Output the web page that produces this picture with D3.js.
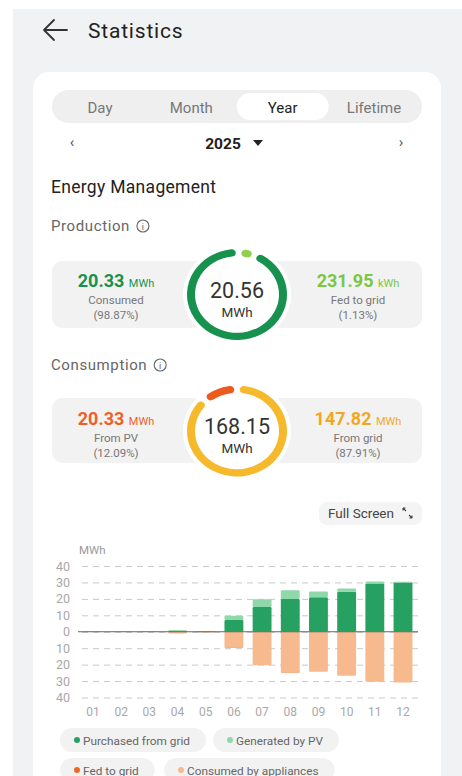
<!DOCTYPE html>
<html>
<head>
<meta charset="utf-8">
<script src="https://cdn.jsdelivr.net/npm/d3@7"></script>
<style>
  body { margin: 0; background: #fff; }
  svg { display: block; font-family: Roboto, "Noto Sans", sans-serif; }
</style>
</head>
<body>
<svg id="canvas" width="462" height="776"></svg>
<script>
// ---- data ----
const tabs = ['Day', 'Month', 'Year', 'Lifetime'];
const selectedTab = 'Year';
const year = '2025';

const productionTotal = '20.56';
const productionParts = [
  { label: 'Fed to grid', value: '231.95', unit: 'kWh', pct: 1.13 },
  { label: 'Consumed', value: '20.33', unit: 'MWh', pct: 98.87 }
];
const consumptionTotal = '168.15';
const consumptionParts = [
  { label: 'From grid', value: '147.82', unit: 'MWh', pct: 87.91 },
  { label: 'From PV', value: '20.33', unit: 'MWh', pct: 12.09 }
];

const months = ['01', '02', '03', '04', '05', '06', '07', '08', '09', '10', '11', '12'];
const purchasedFromGrid = [0, 0, 0, 0.6, 0.2, 7.2, 15.1, 20.0, 21.0, 24.3, 29.4, 29.9];
const generatedByPV = [0.1, 0.1, 0.1, 0.4, 0.3, 2.5, 4.7, 5.3, 3.5, 2.0, 1.1, 0.5];
const consumedByAppliances = [0.1, 0.1, 0.1, 1.0, 0.5, 9.8, 20.4, 25.0, 24.3, 26.7, 30.4, 30.8];
const fedToGrid = [0, 0, 0, 0.02, 0.02, 0.05, 0.05, 0.03, 0.02, 0.02, 0.01, 0.01];
const yTicks = [-40, -30, -20, -10, 0, 10, 20, 30, 40];

const seriesKeys = ['purchased', 'pv', 'consumed', 'fed'];
const seriesNames = ['Purchased from grid', 'Generated by PV', 'Fed to grid', 'Consumed by appliances'];
const seriesColors = { purchased: '#27a162', pv: '#8fd8a9', fed: '#ee6a24', consumed: '#f6ba8e' };

const canvas = d3.select('#canvas');

// ---- page chrome ----
canvas.append('rect').attr('x', 13).attr('y', 9).attr('width', 449).attr('height', 767).attr('fill', '#f1f2f4');
canvas.append('rect').attr('x', 33).attr('y', 72).attr('width', 408).attr('height', 730).attr('rx', 16).attr('fill', '#fff');

canvas.append('path')
  .attr('d', 'M44,30 H67 M44,30 L54,20 M44,30 L54,40')
  .attr('fill', 'none').attr('stroke', '#333').attr('stroke-width', 1.8).attr('stroke-linecap', 'round');
canvas.append('text').attr('x', 88).attr('y', 38).text('Statistics')
  .attr('font-size', 21).attr('letter-spacing', 0.8).attr('fill', '#222');

// segmented control
canvas.append('rect').attr('x', 52).attr('y', 90).attr('width', 370).attr('height', 33).attr('rx', 16.5).attr('fill', '#efefef');
const tabX = d3.scalePoint().domain(tabs).range([100, 374]);
canvas.append('rect').attr('x', tabX(selectedTab) - 46).attr('y', 93).attr('width', 92).attr('height', 27).attr('rx', 13.5).attr('fill', '#fff');
canvas.selectAll('text.tab').data(tabs).enter().append('text')
  .attr('class', 'tab')
  .attr('x', d => tabX(d)).attr('y', 113)
  .attr('text-anchor', 'middle').attr('font-size', 15)
  .attr('fill', d => d === selectedTab ? '#222' : '#777')
  .text(d => d);

canvas.append('text').attr('x', 72).attr('y', 147).attr('text-anchor', 'middle').attr('font-size', 15).attr('fill', '#555').text('‹');
canvas.append('text').attr('x', 401).attr('y', 147).attr('text-anchor', 'middle').attr('font-size', 15).attr('fill', '#555').text('›');
canvas.append('text').attr('x', 223).attr('y', 149).attr('text-anchor', 'middle')
  .attr('font-size', 15.5).attr('font-weight', 'bold').attr('fill', '#222').text(year);
canvas.append('path').attr('d', 'M253,140 L263,140 L258,146 Z').attr('fill', '#222');

canvas.append('text').attr('x', 51).attr('y', 193).attr('font-size', 17.5).attr('letter-spacing', 0.3)
  .attr('fill', '#222').text('Energy Management');

function sectionTitle(label, y) {
  const t = canvas.append('text').attr('x', 51).attr('y', y).attr('font-size', 15)
    .attr('letter-spacing', 0.6).attr('fill', '#666').text(label);
  const w = t.node().getComputedTextLength();
  canvas.append('circle').attr('cx', 51 + w + 13).attr('cy', y - 5).attr('r', 6)
    .attr('fill', 'none').attr('stroke', '#666').attr('stroke-width', 1.1);
  canvas.append('text').attr('x', 51 + w + 13).attr('y', y - 1.5).attr('text-anchor', 'middle')
    .attr('font-size', 9).attr('fill', '#666').text('i');
}
sectionTitle('Production', 231);
sectionTitle('Consumption', 370);

// ---- gauges ----
const ringArc = d3.arc().innerRadius(42).outerRadius(50).cornerRadius(4);
const rad = deg => deg * Math.PI / 180;

function gauge(cy, panelTop, panelH, parts, colors, total, offsetDeg, minDeg) {
  canvas.append('rect').attr('x', 52).attr('y', panelTop).attr('width', 370).attr('height', panelH)
    .attr('rx', 11).attr('fill', '#f2f2f2');

  const g = canvas.append('g').attr('transform', `translate(237,${cy})`);
  const ring = g.append('g').attr('transform', 'scale(1,0.91)');
  ring.append('circle').attr('r', 54).attr('fill', '#fff');

  // spans in degrees, with a minimum visible size for tiny parts
  const spans = parts.map(p => p.pct * 3.6);
  const shown = spans.map(s => Math.max(s, minDeg));
  const extra = d3.sum(shown) - 360;
  const bigIdx = spans.indexOf(d3.max(spans));
  shown[bigIdx] -= extra;
  const gap = 7;
  let acc = offsetDeg;
  shown.forEach((s, i) => {
    ring.append('path')
      .attr('d', ringArc({ startAngle: rad(acc + gap / 2), endAngle: rad(acc + s - gap / 2) }))
      .attr('fill', colors[i]);
    acc += s;
  });

  g.append('text').attr('y', 3).attr('text-anchor', 'middle').attr('font-size', 21.5).attr('fill', '#333').text(total);
  g.append('text').attr('y', 22).attr('text-anchor', 'middle').attr('font-size', 13.5).attr('fill', '#333').text('MWh');
}

function sideText(cx, top, part, color) {
  const v = canvas.append('text').attr('x', cx).attr('y', top).attr('text-anchor', 'middle');
  v.append('tspan').attr('font-size', 18).attr('font-weight', 'bold').attr('fill', color).text(part.value + ' ');
  v.append('tspan').attr('font-size', 11).attr('fill', color).text(part.unit);
  canvas.append('text').attr('x', cx).attr('y', top + 17).attr('text-anchor', 'middle')
    .attr('font-size', 11.5).attr('fill', '#777').text(part.label);
  canvas.append('text').attr('x', cx).attr('y', top + 32).attr('text-anchor', 'middle')
    .attr('font-size', 11.5).attr('fill', '#777').text(`(${part.pct.toFixed(2)}%)`);
}

gauge(294.5, 261, 67, productionParts, ['#8fd14f', '#17924e'], productionTotal, 2, 20);
sideText(116, 287, productionParts[1], '#17924e');
sideText(358, 287, productionParts[0], '#7cc63f');

gauge(431, 398, 65, consumptionParts, ['#f6b92b', '#ec5b1e'], consumptionTotal, 0, 20);
sideText(116, 425, consumptionParts[1], '#ef5f2a');
sideText(358, 425, consumptionParts[0], '#f2a81e');

// ---- full screen button ----
canvas.append('rect').attr('x', 319).attr('y', 502).attr('width', 103).attr('height', 23).attr('rx', 8).attr('fill', '#f4f4f4');
canvas.append('text').attr('x', 328).attr('y', 518).attr('font-size', 13.5).attr('fill', '#444').text('Full Screen');
canvas.append('path')
  .attr('d', 'M403,508 L406,511 M403,508 H405.5 M403,508 V510.5 M412,518 L409,515 M412,518 H409.5 M412,518 V515.5')
  .attr('fill', 'none').attr('stroke', '#444').attr('stroke-width', 1.1);

// ---- bar chart ----
const rows = months.map((m, i) => ({
  month: m,
  purchased: purchasedFromGrid[i],
  pv: generatedByPV[i],
  consumed: -consumedByAppliances[i],
  fed: -fedToGrid[i]
}));
const stack = d3.stack().keys(seriesKeys).offset(d3.stackOffsetDiverging);
const layers = stack(rows);

const x = d3.scaleBand().domain(months).range([78.9, 417.1]).paddingInner(0.33).paddingOuter(0.165);
const y = d3.scaleLinear().domain([-40, 40]).range([697.5, 566]);

canvas.append('text').attr('x', 79).attr('y', 554).attr('font-size', 11.5).attr('fill', '#999').text('MWh');

const yAxis = canvas.append('g').attr('transform', 'translate(418,0)')
  .call(d3.axisLeft(y).tickValues(yTicks).tickSize(340).tickPadding(8).tickFormat(d => Math.abs(d)));
yAxis.select('.domain').remove();
yAxis.selectAll('line').attr('stroke', '#c8c8c8').attr('stroke-dasharray', '6,5').attr('stroke-width', 1);
yAxis.selectAll('text').attr('fill', '#a8a8a8').attr('font-size', 12.5).attr('font-family', 'Roboto, sans-serif');

canvas.selectAll('g.layer').data(layers).enter().append('g')
  .attr('class', 'layer')
  .attr('fill', d => seriesColors[d.key])
  .selectAll('rect').data(d => d).enter().append('rect')
  .attr('x', d => x(d.data.month))
  .attr('width', x.bandwidth())
  .attr('y', d => y(Math.max(d[0], d[1])))
  .attr('height', d => Math.abs(y(d[0]) - y(d[1])))
  .attr('rx', 1.2);

canvas.append('line').attr('x1', 78).attr('x2', 418).attr('y1', y(0)).attr('y2', y(0))
  .attr('stroke', '#666').attr('stroke-width', 1);

const xAxis = canvas.append('g').attr('transform', 'translate(0,703)')
  .call(d3.axisBottom(x).tickSize(0).tickPadding(4));
xAxis.select('.domain').remove();
xAxis.selectAll('text').attr('fill', '#a8a8a8').attr('font-size', 12).attr('font-family', 'Roboto, sans-serif');

// ---- legend chips ----
const legendItems = [
  { key: 'purchased', name: seriesNames[0], x: 60, y: 728 },
  { key: 'pv', name: seriesNames[1], x: 213, y: 728 },
  { key: 'fed', name: seriesNames[2], x: 60, y: 758 },
  { key: 'consumed', name: seriesNames[3], x: 164, y: 758 }
];
legendItems.forEach(item => {
  const chip = canvas.append('g').attr('transform', `translate(${item.x},${item.y})`);
  const bg = chip.append('rect').attr('height', 24).attr('rx', 12).attr('fill', '#f2f2f2');
  chip.append('circle').attr('cx', 17).attr('cy', 12).attr('r', 3).attr('fill', seriesColors[item.key]);
  const t = chip.append('text').attr('x', 23).attr('y', 16.5).attr('font-size', 11.8).attr('fill', '#666').text(item.name);
  bg.attr('width', t.node().getComputedTextLength() + 39);
});
</script>
</body>
</html>
